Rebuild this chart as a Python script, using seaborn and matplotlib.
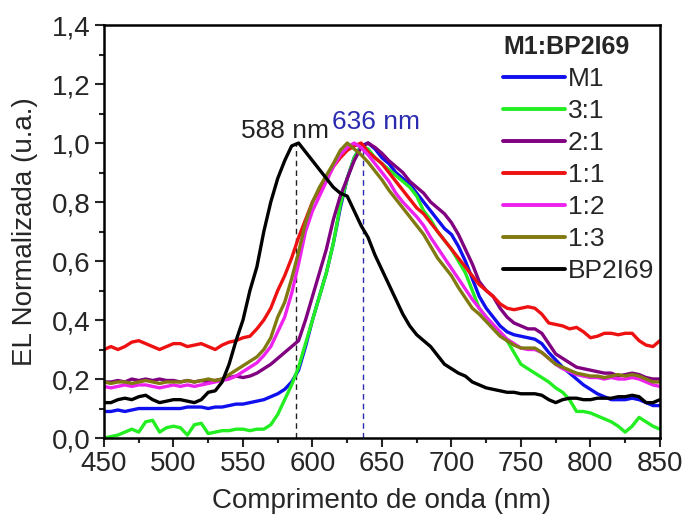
import numpy as np
import pandas as pd
import matplotlib
matplotlib.use("Agg")
import matplotlib.pyplot as plt
import seaborn as sns

# Wavelength grid (nm)
wavelength = list(range(450, 851, 5))

# Normalised EL spectra, one list per sample
m1 = [0.09, 0.09, 0.095, 0.09, 0.095, 0.10, 0.10, 0.10, 0.10, 0.10,
      0.10, 0.10, 0.105, 0.105, 0.105, 0.10, 0.105, 0.105, 0.11, 0.115,
      0.115, 0.12, 0.125, 0.13, 0.14, 0.15, 0.165, 0.19, 0.23, 0.31,
      0.40, 0.48, 0.56, 0.66, 0.78, 0.88, 0.95, 0.99, 1.00, 0.98,
      0.95, 0.93, 0.90, 0.88, 0.86, 0.83, 0.80, 0.77, 0.74, 0.71,
      0.69, 0.65, 0.60, 0.54, 0.48, 0.44, 0.41, 0.38, 0.36, 0.35,
      0.345, 0.34, 0.335, 0.32, 0.29, 0.265, 0.24, 0.22, 0.20, 0.18,
      0.165, 0.15, 0.14, 0.13, 0.13, 0.13, 0.135, 0.13, 0.12, 0.11,
      0.11]
r3_1 = [0.0, 0.005, 0.01, 0.02, 0.03, 0.02, 0.055, 0.06, 0.02, 0.035,
        0.04, 0.035, 0.01, 0.045, 0.05, 0.015, 0.02, 0.025, 0.025, 0.03,
        0.03, 0.025, 0.03, 0.03, 0.045, 0.08, 0.13, 0.18, 0.24, 0.32,
        0.40, 0.48, 0.56, 0.66, 0.79, 0.88, 0.95, 0.99, 0.98, 0.95,
        0.93, 0.91, 0.89, 0.87, 0.85, 0.82, 0.77, 0.74, 0.70, 0.67,
        0.64, 0.60, 0.56, 0.50, 0.44, 0.41, 0.38, 0.35, 0.33, 0.29,
        0.25, 0.235, 0.22, 0.205, 0.19, 0.17, 0.155, 0.13, 0.09, 0.09,
        0.085, 0.075, 0.065, 0.055, 0.04, 0.02, 0.04, 0.07, 0.055, 0.04,
        0.03]
r2_1 = [0.19, 0.19, 0.195, 0.19, 0.20, 0.195, 0.20, 0.195, 0.20, 0.195,
        0.195, 0.19, 0.195, 0.19, 0.195, 0.19, 0.195, 0.20, 0.205, 0.21,
        0.205, 0.21, 0.22, 0.235, 0.25, 0.27, 0.29, 0.31, 0.33, 0.40,
        0.48, 0.56, 0.64, 0.74, 0.82, 0.88, 0.94, 0.985, 1.00, 0.985,
        0.965, 0.94, 0.92, 0.90, 0.87, 0.85, 0.83, 0.80, 0.78, 0.76,
        0.73, 0.69, 0.64, 0.59, 0.53, 0.50, 0.48, 0.44, 0.41, 0.39,
        0.38, 0.37, 0.37, 0.355, 0.32, 0.285, 0.27, 0.255, 0.24, 0.235,
        0.23, 0.225, 0.22, 0.22, 0.21, 0.215, 0.22, 0.215, 0.205, 0.20,
        0.20]
r1_1 = [0.30, 0.31, 0.30, 0.31, 0.325, 0.33, 0.32, 0.31, 0.30, 0.31,
        0.32, 0.32, 0.31, 0.315, 0.32, 0.31, 0.30, 0.315, 0.325, 0.33,
        0.34, 0.345, 0.37, 0.40, 0.44, 0.50, 0.55, 0.61, 0.68, 0.74,
        0.80, 0.84, 0.875, 0.92, 0.95, 0.975, 0.99, 1.00, 0.97, 0.95,
        0.93, 0.90, 0.87, 0.84, 0.81, 0.78, 0.76, 0.73, 0.70, 0.67,
        0.64, 0.61, 0.58, 0.55, 0.52, 0.50, 0.48, 0.455, 0.44, 0.435,
        0.44, 0.445, 0.44, 0.42, 0.39, 0.385, 0.38, 0.37, 0.375, 0.36,
        0.34, 0.345, 0.355, 0.355, 0.35, 0.355, 0.355, 0.33, 0.315, 0.31,
        0.33]
r1_2 = [0.175, 0.17, 0.175, 0.18, 0.175, 0.18, 0.18, 0.175, 0.17, 0.175,
        0.18, 0.175, 0.18, 0.175, 0.18, 0.185, 0.19, 0.195, 0.20, 0.21,
        0.225, 0.24, 0.255, 0.28, 0.31, 0.36, 0.41, 0.49, 0.59, 0.70,
        0.77, 0.82, 0.87, 0.92, 0.96, 0.985, 1.00, 0.985, 0.96, 0.93,
        0.90, 0.87, 0.83, 0.80, 0.775, 0.75, 0.72, 0.68, 0.645, 0.61,
        0.575, 0.54, 0.505, 0.47, 0.44, 0.41, 0.385, 0.36, 0.335, 0.32,
        0.305, 0.30, 0.30, 0.29, 0.27, 0.25, 0.235, 0.225, 0.215, 0.21,
        0.205, 0.205, 0.20, 0.205, 0.20, 0.20, 0.205, 0.20, 0.19, 0.18,
        0.175]
r1_3 = [0.19, 0.185, 0.19, 0.19, 0.185, 0.19, 0.195, 0.19, 0.185, 0.19,
        0.19, 0.19, 0.195, 0.19, 0.195, 0.20, 0.195, 0.20, 0.215, 0.23,
        0.245, 0.26, 0.275, 0.30, 0.34, 0.41, 0.46, 0.54, 0.63, 0.73,
        0.80, 0.85, 0.89, 0.93, 0.975, 1.00, 0.98, 0.96, 0.935, 0.905,
        0.875, 0.84, 0.81, 0.78, 0.75, 0.72, 0.69, 0.65, 0.61, 0.58,
        0.55, 0.51, 0.475, 0.44, 0.42, 0.395, 0.37, 0.345, 0.33, 0.315,
        0.305, 0.305, 0.305, 0.29, 0.27, 0.25, 0.24, 0.23, 0.22, 0.215,
        0.21, 0.21, 0.205, 0.21, 0.215, 0.21, 0.215, 0.21, 0.20, 0.19,
        0.19]
bp2i69 = [0.12, 0.12, 0.13, 0.135, 0.13, 0.14, 0.145, 0.13, 0.12, 0.125,
          0.13, 0.13, 0.125, 0.12, 0.13, 0.155, 0.16, 0.19, 0.25, 0.33,
          0.40, 0.50, 0.58, 0.70, 0.80, 0.88, 0.94, 0.99, 1.00, 0.97,
          0.94, 0.91, 0.88, 0.85, 0.83, 0.82, 0.77, 0.72, 0.68, 0.62,
          0.57, 0.52, 0.47, 0.42, 0.38, 0.35, 0.33, 0.31, 0.28, 0.25,
          0.235, 0.22, 0.21, 0.19, 0.18, 0.17, 0.165, 0.16, 0.155, 0.155,
          0.15, 0.15, 0.15, 0.145, 0.13, 0.12, 0.13, 0.135, 0.135, 0.13,
          0.13, 0.135, 0.135, 0.135, 0.14, 0.14, 0.145, 0.14, 0.12, 0.12,
          0.13]

samples = ["M1", "3:1", "2:1", "1:1", "1:2", "1:3", "BP2I69"]
series = [m1, r3_1, r2_1, r1_1, r1_2, r1_3, bp2i69]
colors = ["#1010ee", "#22ee22", "#800080", "#ee1111", "#ee22ee", "#807a10", "#000000"]

# Emission maxima marked with dashed guides
peak_nm = [588, 636]
peak_labels = ["588 nm", "636 nm"]
peak_colors = ["#222222", "#2b2bb0"]

x_ticks = [450, 500, 550, 600, 650, 700, 750, 800, 850]
y_ticks = [0.0, 0.2, 0.4, 0.6, 0.8, 1.0, 1.2, 1.4]
y_tick_labels = ["0,0", "0,2", "0,4", "0,6", "0,8", "1,0", "1,2", "1,4"]

df = pd.DataFrame({
    "wl": np.tile(wavelength, len(samples)),
    "el": np.concatenate(series),
    "amostra": np.repeat(samples, len(wavelength)),
})

sns.set_style("ticks")
plt.rcParams["font.family"] = ["Liberation Sans", "DejaVu Sans"]

fig = plt.figure(figsize=(6.86, 5.18), dpi=100)
ax = fig.add_axes([0.1516, 0.1544, 0.8104, 0.7973])

sns.lineplot(data=df, x="wl", y="el", hue="amostra", hue_order=samples,
             palette=dict(zip(samples, colors)), linewidth=2.4,
             estimator=None, ax=ax)

for xp, lab, c, yt in zip(peak_nm, peak_labels, peak_colors, [1.018, 1.046]):
    ax.vlines(xp, 0, 1.0, colors=c, linestyles=(0, (4, 3)), linewidth=1.0, zorder=1)
    ax.text(xp - 8 if xp < 600 else xp + 10, yt, lab, color=c, fontsize=19,
            ha="center", va="baseline")

ax.set_xlim(450, 850)
ax.set_ylim(0, 1.4)
ax.set_xticks(x_ticks)
ax.set_xticks(np.arange(475, 850, 50), minor=True)
ax.set_yticks(y_ticks, y_tick_labels)
ax.set_yticks(np.arange(0.1, 1.4, 0.2), minor=True)
ax.tick_params(which="major", direction="out", length=6.5, width=1.5,
               labelsize=20, pad=3, top=False, right=False)
ax.tick_params(which="minor", direction="out", length=3.5, width=1.5,
               top=False, right=False)
for sp in ax.spines.values():
    sp.set_linewidth(1.8)
    sp.set_color("black")

ax.set_xlabel("Comprimento de onda (nm)", fontsize=20, labelpad=8)
ax.set_ylabel("EL Normalizada (u.a.)", fontsize=20, labelpad=10)

handles, labels = ax.get_legend_handles_labels()
leg = ax.legend(handles, labels, title="M1:BP2I69", loc="upper left",
                bbox_to_anchor=(0.7176, 0.975), frameon=False, fontsize=19,
                title_fontproperties={"weight": "bold", "size": 18},
                handlelength=2.35, handletextpad=0.1, labelspacing=0.3,
                borderpad=0, borderaxespad=0, alignment="left")
for h in leg.legend_handles:
    h.set_linewidth(2.8)

fig.savefig("out.png", dpi=100)
